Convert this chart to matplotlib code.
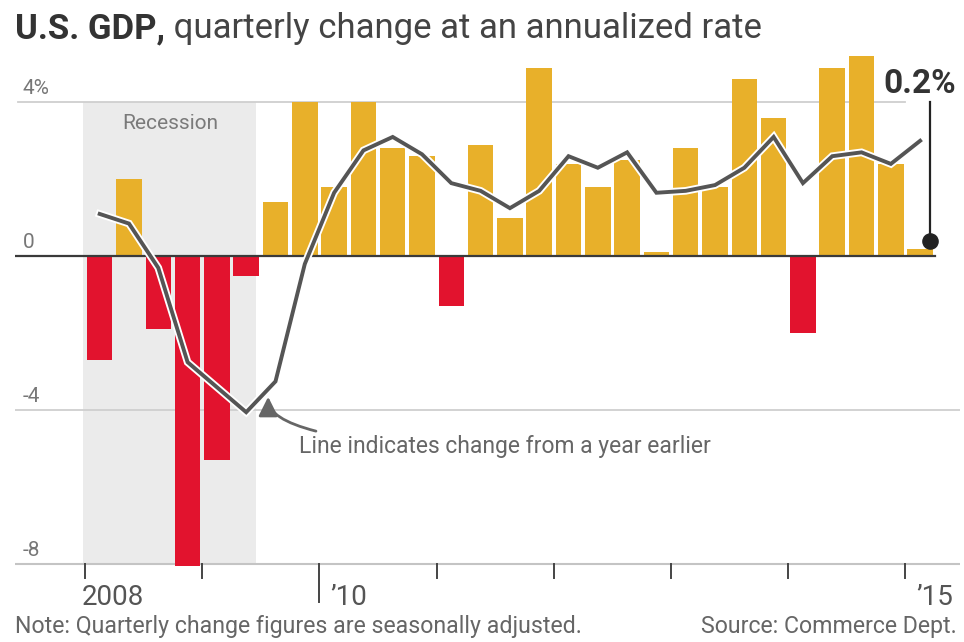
import matplotlib
matplotlib.use("Agg")
import matplotlib.pyplot as plt
import matplotlib.patheffects as pe
from matplotlib import font_manager as fm
import numpy as np

# ---------------- data ----------------
quarters = [f"{y}Q{q}" for y in range(2008, 2016) for q in range(1, 5)][:29]
gdp_change = [-2.7, 2.0, -1.9, -8.2, -5.3, -0.5, 1.4, 4.0,
              1.8, 4.0, 2.8, 2.6, -1.3, 2.9, 1.0, 4.9,
              2.4, 1.8, 2.5, 0.1, 2.8, 1.8, 4.6, 3.6,
              -2.0, 4.9, 5.2, 2.4, 0.2]
yoy_change = [1.1, 0.85, -0.3, -2.75, -3.4, -4.05, -3.25, -0.2,
              1.65, 2.75, 3.1, 2.65, 1.9, 1.7, 1.25, 1.7,
              2.6, 2.3, 2.7, 1.65, 1.7, 1.85, 2.3, 3.1,
              1.9, 2.6, 2.7, 2.4, 3.0]
year_ticks = [2008, 2009, 2010, 2011, 2012, 2013, 2014, 2015]
year_labels = ["2008", "", "\u201910", "", "", "", "", "\u201915"]
y_gridvals = [4, 0, -4, -8]
y_labels = ["4%", "0", "-4", "-8"]
recession = ("2008Q1", "2009Q2")
last_label = "0.2%"

# ---------------- fonts ----------------
names = {f.name for f in fm.fontManager.ttflist}
FONT = "Liberation Sans Narrow" if "Liberation Sans Narrow" in names else "Roboto"
plt.rcParams["font.family"] = [FONT, "DejaVu Sans"]

W, H = 964, 642
fig = plt.figure(figsize=(W / 100, H / 100), dpi=100)

def fx(x):
    return x / W

def fy(y):
    return 1 - y / H

# axes geometry
ax = fig.add_axes([15 / W, 1 - 566.2 / H, 945 / W, (566.2 - 44.55) / H])
xl = (-2.39, 29.86)
ax.set_xlim(*xl)
ax.set_ylim(-8.05, 5.5)
ax.axis("off")

GOLD = "#E8B02A"
RED = "#E2132E"
LINE = "#555555"
GRID = "#CFCFCF"

n = len(gdp_change)
xs = np.arange(n) + 0.5

# recession shading
r0 = quarters.index(recession[0])
r1 = quarters.index(recession[1])
ax.fill_between([r0 - 0.07, r1 + 0.85], -8, 4, color="#EBEBEB", lw=0, zorder=0)
ax.text((r0 + r1 + 1) / 2 - 0.1, 3.45, "Recession", ha="center", va="center",
        fontsize=15, color="#7a7a7a", zorder=1)

# gridlines
ax.plot([-2.29, 28.0], [4, 4], color=GRID, lw=1.3, zorder=1)
ax.plot([-2.39, xl[1]], [-4, -4], color=GRID, lw=1.3, zorder=1)
ax.plot([-2.39, xl[1]], [-8, -8], color="#C4C4C4", lw=1.5, zorder=1)

# bars
colors = [GOLD if v >= 0 else RED for v in gdp_change]
ax.bar(xs, gdp_change, width=0.87, color=colors, zorder=2, clip_on=True)

# zero baseline
ax.plot([-2.39, 29.0], [0, 0], color="#3a3a3a", lw=1.6, zorder=2.5)

# yoy line
ax.plot(xs, yoy_change, color=LINE, lw=2.8, zorder=3, solid_joinstyle="miter",
        path_effects=[pe.Stroke(linewidth=5.5, foreground="white"), pe.Normal()])

# y labels
for v, lab in zip(y_gridvals, y_labels):
    ax.text(-2.12, v + 0.12, lab, ha="left", va="bottom", fontsize=15, color="#777777")

# x ticks
for k, (yr, lab) in enumerate(zip(year_ticks, year_labels)):
    xt = 4 * k
    low = -8.98 if lab == "\u201910" else -8.36
    ax.plot([xt, xt], [-8, low], color="#444444", lw=1.4, clip_on=False, zorder=3)
    if lab:
        if k == 0:
            ax.text(xt - 0.1, -9.07, lab, ha="left", va="baseline", fontsize=20, color="#555555")
        else:
            ax.text(xt + 0.37, -9.07, lab, ha="left", va="baseline", fontsize=20, color="#555555")

# annotation for last value
xd = xs[-1] + 0.33
yd = gdp_change[-1] + 0.2
ax.plot([xd, xd], [yd, 4.0], color="#222222", lw=1.6, zorder=4, clip_on=False)
ax.scatter([xd], [yd], s=120, color="#222222", zorder=5, clip_on=False)
fig.text(fx(920), fy(93), last_label, ha="center", va="baseline", fontsize=24,
         fontweight="bold", color="#333333")

# line annotation
ax.annotate("Line indicates change from a year earlier", xy=(6.25, -3.65),
            xytext=(7.3, -4.93), ha="left", va="center", fontsize=16.5, color="#666666",
            arrowprops=dict(arrowstyle="-|>,head_length=0.7,head_width=0.35",
                            color="#666666", lw=2,
                            connectionstyle="angle3,angleA=0,angleB=90",
                            shrinkA=2, shrinkB=0))

# title
t1 = fig.text(fx(15), fy(38), "U.S. GDP,", ha="left", va="baseline", fontsize=25,
              fontweight="bold", color="#333333")
ax.annotate(" quarterly change at an annualized rate", xy=(1, 0), xycoords=t1,
            ha="left", va="bottom", fontsize=25, color="#444444",
            annotation_clip=False)

# footer
fig.text(fx(15), fy(633), "Note: Quarterly change figures are seasonally adjusted.",
         ha="left", va="baseline", fontsize=16.7, color="#666666")
fig.text(fx(957), fy(633), "Source: Commerce Dept.", ha="right", va="baseline",
         fontsize=16.7, color="#666666")

fig.savefig("out.png", dpi=100)
